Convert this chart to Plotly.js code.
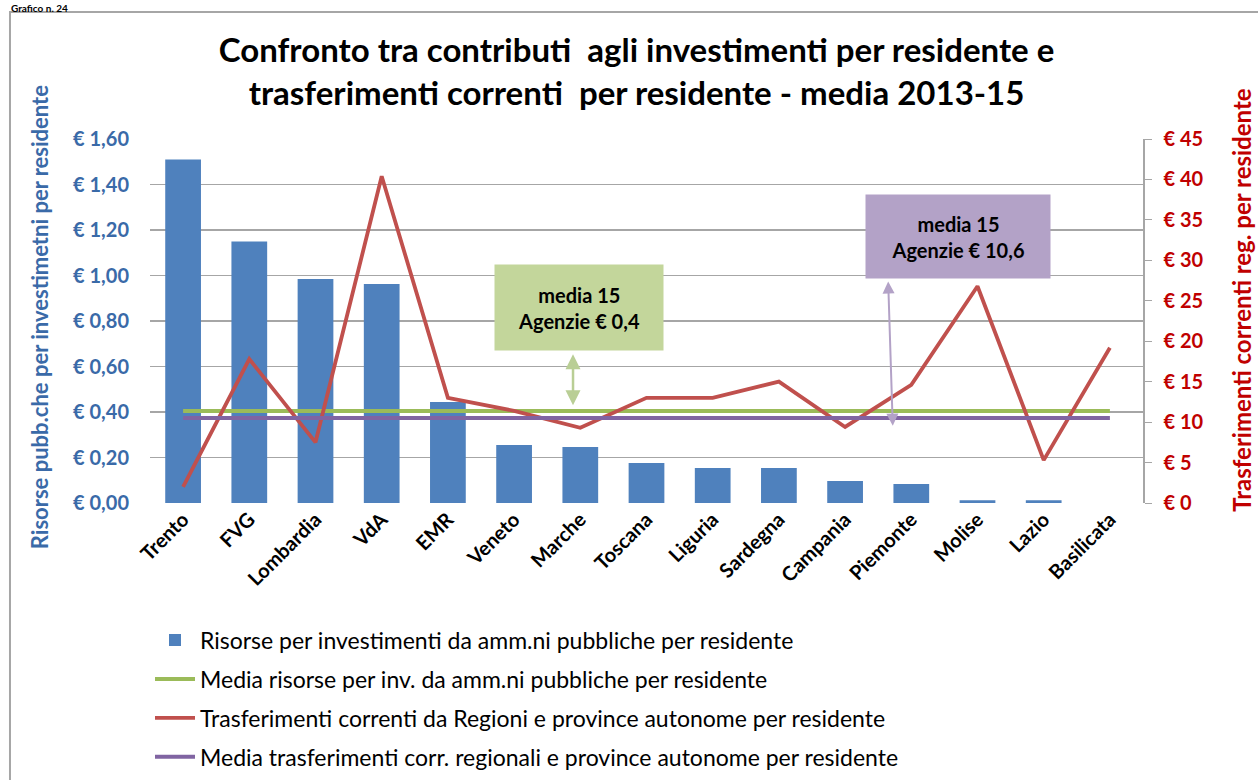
<!DOCTYPE html>
<html><head><meta charset="utf-8">
<script src="https://cdn.plot.ly/plotly-3.0.1.min.js"></script>
<style>html,body{margin:0;padding:0;background:#fff;}#chart{width:1258px;height:780px;}</style>
</head><body><div id="chart"></div>
<script>
const regions = ["Trento","FVG","Lombardia","VdA","EMR","Veneto","Marche","Toscana","Liguria","Sardegna","Campania","Piemonte","Molise","Lazio","Basilicata"];
const investPerResident = [1.51,1.15,0.985,0.963,0.444,0.255,0.246,0.176,0.154,0.154,0.097,0.084,0.012,0.012,0.0];
const investMean = [0.404,0.404,0.404,0.404,0.404,0.404,0.404,0.404,0.404,0.404,0.404,0.404,0.404,0.404,0.404];
const transfersPerResident = [2.0,17.8,7.5,40.4,13.0,11.4,9.3,13.0,13.0,15.0,9.4,14.6,26.8,5.3,19.2];
const transfersMean = [10.5,10.5,10.5,10.5,10.5,10.5,10.5,10.5,10.5,10.5,10.5,10.5,10.5,10.5,10.5];
const seriesNames = [
  "Risorse per investimenti da amm.ni pubbliche per residente",
  "Media risorse per inv. da amm.ni pubbliche per residente",
  "Trasferimenti correnti da Regioni e province autonome per residente",
  "Media trasferimenti corr. regionali e province autonome per residente"
];

const FONT = "Lato, 'Open Sans', sans-serif";
const traces = [
  {type:'bar', x:regions, y:investPerResident, name:seriesNames[0], marker:{color:'#4F81BD'}, yaxis:'y', legendgroup:'a'},
  {type:'scatter', mode:'lines', x:regions, y:investMean, name:seriesNames[1], line:{color:'#9BBB59', width:4}, yaxis:'y', legendgroup:'b'},
  {type:'scatter', mode:'lines', x:regions, y:transfersPerResident, name:seriesNames[2], line:{color:'#C0504D', width:3.8}, yaxis:'y2', legendgroup:'c'},
  {type:'scatter', mode:'lines', x:regions, y:transfersMean, name:seriesNames[3], line:{color:'#8064A2', width:4}, yaxis:'y2', legendgroup:'d'}
];

const layout = {
  width:1258, height:780,
  margin:{l:150, r:115, t:139, b:277, autoexpand:false},
  paper_bgcolor:'#fff', plot_bgcolor:'#fff',
  font:{family:FONT, color:'#000'},
  separators:',.',
  bargap:0.46,
  showlegend:true,
  legend:{x:0.0, xref:'paper', y:0.207, yref:'container', xanchor:'left', yanchor:'top', orientation:'v', font:{family:FONT, size:23, color:'#000'}, tracegroupgap:6, itemwidth:40, bgcolor:'rgba(0,0,0,0)'},
  xaxis:{type:'category', range:[-0.5,14.5], tickangle:-45, automargin:false, tickfont:{family:FONT, size:20, color:'#000', weight:'bold'}, showgrid:false, showline:false, ticks:'', zeroline:false},
  yaxis:{range:[0,1.6], dtick:0.2, tickformat:'.2f', tickprefix:'€ ', automargin:false, tickfont:{family:FONT, size:20, color:'#3A6AA8', weight:'bold'}, showgrid:true, gridcolor:'#A6A6A6', gridwidth:1.5, zeroline:false, showline:false, ticks:'', ticklabelstandoff:20},
  yaxis2:{range:[0,45], dtick:5, tickprefix:'€ ', overlaying:'y', side:'right', automargin:false, showgrid:false, zeroline:false, showline:true, linecolor:'#A6A6A6', linewidth:1.5, ticks:'outside', ticklen:7, tickcolor:'#A6A6A6', tickfont:{family:FONT, size:20, color:'#C00000', weight:'bold'}, ticklabelstandoff:8},
  title:{text:'Confronto tra contributi  agli investimenti per residente e<br>trasferimenti correnti  per residente - media 2013-15', x:0.506, xref:'container', y:0.921, yref:'container', yanchor:'middle', font:{family:FONT, size:33, color:'#000', weight:'bold'}},
  shapes:[
    {type:'rect', xref:'paper', yref:'paper', x0:-0.141, x1:1.25, y0:-1.0, y1:1.349, line:{color:'#A6A6A6', width:2}, fillcolor:'rgba(0,0,0,0)', layer:'below'}
  ],
  annotations:[
    {text:'<b>Grafico n. 24</b>', xref:'paper', yref:'paper', x:-0.141, y:1.379, xanchor:'left', yanchor:'top', showarrow:false, borderpad:0, font:{family:FONT, size:10, color:'#000'}},
    {text:'Risorse pubb.che per investimetni per residente', xref:'paper', yref:'paper', x:-0.111, y:0.51, textangle:-90, showarrow:false, xanchor:'center', yanchor:'middle', font:{family:FONT, size:22, color:'#3A6AA8', weight:'bold'}},
    {text:'Trasferimenti correnti reg. per residente', xref:'paper', yref:'paper', x:1.0995, y:0.558, textangle:-90, showarrow:false, xanchor:'center', yanchor:'middle', font:{family:FONT, size:24, color:'#C00000', weight:'bold'}},
    {text:'media 15<br>Agenzie € 0,4', xref:'x', yref:'y', x:5.98, y:0.859, width:166, height:83, bgcolor:'#C3D69B', showarrow:false, font:{family:FONT, size:20, color:'#000', weight:'bold'}},
    {text:'media 15<br>Agenzie € 10,6', xref:'x', yref:'y', x:11.71, y:1.171, width:182, height:81, bgcolor:'#B3A2C7', showarrow:false, font:{family:FONT, size:20, color:'#000', weight:'bold'}},
    {text:'', xref:'x', yref:'y', x:5.89, y:0.43, axref:'x', ayref:'y', ax:5.89, ay:0.66, showarrow:true, arrowhead:2, arrowside:'end+start', arrowsize:1.2, arrowwidth:2.5, arrowcolor:'#B9CE95'},
    {text:'', xref:'x', yref:'y', x:10.72, y:0.34, axref:'x', ayref:'y', ax:10.65, ay:0.98, showarrow:true, arrowhead:2, arrowside:'end+start', arrowsize:1.2, arrowwidth:2, arrowcolor:'#B3A2C7'}
  ]
};

Plotly.newPlot('chart', traces, layout, {displayModeBar:false, staticPlot:true});
</script></body></html>
